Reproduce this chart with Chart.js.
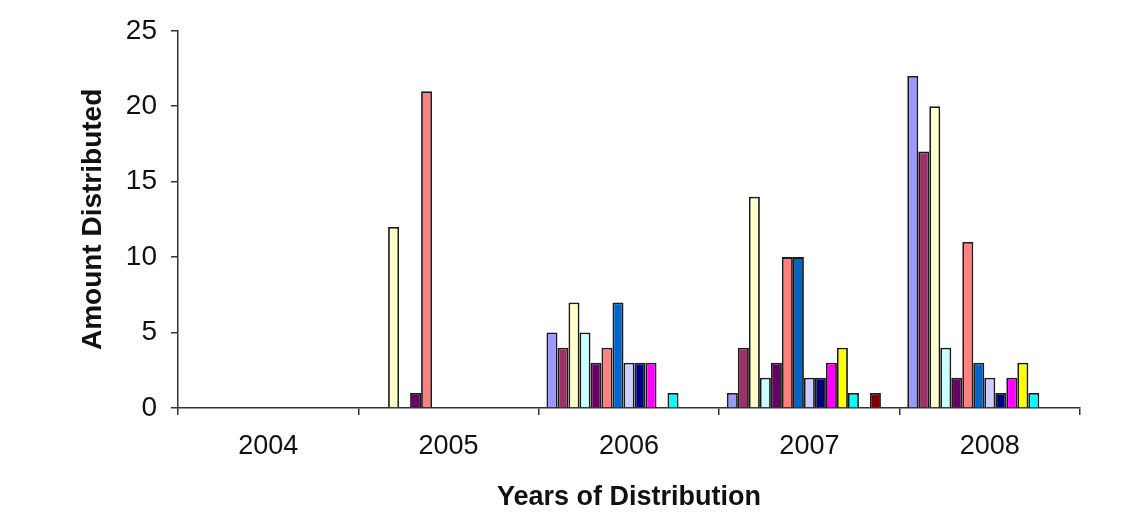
<!DOCTYPE html>
<html>
<head>
<meta charset="utf-8">
<script src="https://cdn.jsdelivr.net/npm/chart.js@4"></script>
<style>
  body { margin: 0; background: #fff; }
  #wrap { width: 1140px; height: 512px; }
</style>
</head>
<body>
<div id="wrap"><canvas id="barChart" width="1140" height="512"></canvas></div>
<script>
// categories on the x axis
const years = ["2004", "2005", "2006", "2007", "2008"];

// one array per series, values per year (null = no bar)
const s1 = [null, null, 5, 1, 22];
const s2 = [null, null, 4, 4, 17];
const s3 = [null, 12, 7, 14, 20];
const s4 = [null, null, 5, 2, 4];
const s5 = [null, 1, 3, 3, 2];
const s6 = [null, 21, 4, 10, 11];
const s7 = [null, null, 7, 10, 3];
const s8 = [null, null, 3, 2, 2];
const s9 = [null, null, 3, 2, 1];
const s10 = [null, null, 3, 3, 2];
const s11 = [null, null, null, 4, 3];
const s12 = [null, null, 1, 1, 1];
const s13 = [null, null, null, null, null];
const s14 = [null, null, null, 1, null];
const s15 = [null, null, null, null, null];

const seriesValues = [s1, s2, s3, s4, s5, s6, s7, s8, s9, s10, s11, s12, s13, s14, s15];
const seriesColors = [
  "#9999FF", "#993366", "#FFFFCC", "#CCFFFF", "#660066", "#FF8080", "#0066CC",
  "#CCCCFF", "#000080", "#FF00FF", "#FFFF00", "#00FFFF", "#800080", "#800000", "#008080",
];

const yTicks = [0, 5, 10, 15, 20, 25];

const makeGraph = () => {
  const chart_ctx = document.getElementById("barChart");
  const data = {
    labels: years,
    datasets: seriesValues.map((vals, i) => ({
      label: "Series " + (i + 1),
      data: vals,
      backgroundColor: seriesColors[i],
      borderColor: "#1a1a1a",
      borderWidth: 1.8,
      barPercentage: 1,
      categoryPercentage: 0.915,
    })),
  };
  const config = {
    type: "bar",
    data,
    options: {
      responsive: false,
      animation: false,
      devicePixelRatio: 1,
      layout: { padding: { top: 30, right: 60, bottom: 0, left: 0 } },
      plugins: { legend: { display: false }, tooltip: { enabled: false } },
      scales: {
        x: {
          afterFit: (s) => { s.height = 104; },
          grid: { display: true, drawOnChartArea: false, offset: true, tickLength: 7, color: "#333", lineWidth: 1.5 },
          border: { display: true, color: "#333", width: 1.5 },
          ticks: { color: "#111", padding: 15, font: { family: "Liberation Sans", size: 27 } },
          title: {
            display: true,
            text: "Years of Distribution",
            color: "#111",
            padding: { top: 0, bottom: 1 },
            font: { family: "Liberation Sans", size: 27, weight: "bold", lineHeight: 1 },
          },
        },
        y: {
          min: 0,
          max: 25,
          afterFit: (s) => { s.width = 178; },
          afterBuildTicks: (s) => { s.ticks = yTicks.map((v) => ({ value: v })); },
          grid: { display: true, drawOnChartArea: false, tickLength: 7, color: "#333", lineWidth: 1.5 },
          border: { display: true, color: "#333", width: 1.5 },
          ticks: { color: "#111", padding: 14, font: { family: "Liberation Sans", size: 28 } },
          title: {
            display: true,
            text: "Amount Distributed",
            color: "#111",
            padding: { top: 79, bottom: 0 },
            font: { family: "Liberation Sans", size: 28, weight: "bold", lineHeight: 1 },
          },
        },
      },
    },
  };
  return new Chart(chart_ctx, config);
};

makeGraph();
</script>
</body>
</html>
